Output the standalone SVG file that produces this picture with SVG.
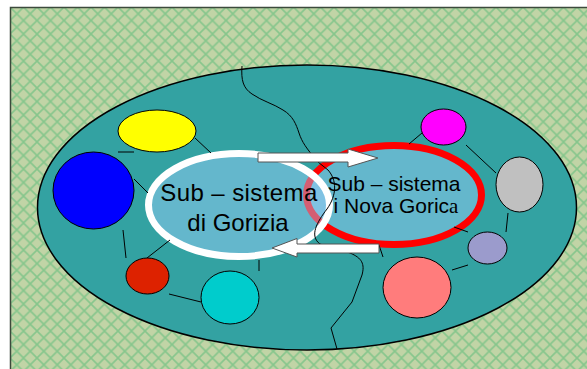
<svg xmlns="http://www.w3.org/2000/svg" width="587" height="369" viewBox="0 0 587 369">
  <defs>
    <pattern id="grid" patternUnits="userSpaceOnUse" width="13.5" height="13.5" x="10" y="7">
      <rect width="13.5" height="13.5" fill="#c1d4a6"/>
      <path d="M0,0 L13.5,13.5 M13.5,0 L0,13.5" stroke="#86c68c" stroke-width="1.6" fill="none"/>
    </pattern>
    <style>
      .node { stroke: #000; stroke-width: 1; }
      .conn { stroke: #000; stroke-width: 1; fill: none; }
      .arrow { fill: #fff; stroke: #555; stroke-width: 1; }
      .label { font-family: "Liberation Sans", Arial, sans-serif; fill: #000; text-anchor: middle; }
      .sub { fill: #a0d1ff; fill-opacity: 0.45; stroke-width: 7; }
    </style>
  </defs>

  <rect x="10.5" y="7.5" width="600" height="380" fill="url(#grid)" stroke="#3c4a3c" stroke-width="1.5"/>

  <g id="region">
    <ellipse cx="307" cy="207.5" rx="269.5" ry="142.5" fill="#33a2a2" stroke="#000" stroke-width="1.5"/>
  </g>

  <g id="node-yellow"><ellipse class="node" cx="157" cy="131" rx="39" ry="21" fill="#ffff00"/></g>
  <g id="node-blue"><ellipse class="node" cx="93.5" cy="190.5" rx="40.5" ry="38.5" fill="#0000ff"/></g>
  <g id="node-red"><ellipse class="node" cx="147.5" cy="276" rx="21.5" ry="18" fill="#dd2200"/></g>
  <g id="node-cyan"><ellipse class="node" cx="230" cy="297.5" rx="29" ry="26.5" fill="#00cccc"/></g>
  <g id="node-salmon"><ellipse class="node" cx="417" cy="287.5" rx="34" ry="30.5" fill="#ff7c7c"/></g>
  <g id="node-lavender"><ellipse class="node" cx="487.5" cy="248" rx="19.5" ry="16" fill="#9b9bcc"/></g>
  <g id="node-grey"><ellipse class="node" cx="519.5" cy="184.5" rx="23.5" ry="27.5" fill="#c0c0c0"/></g>
  <g id="node-magenta"><ellipse class="node" cx="443.5" cy="127" rx="22.5" ry="18" fill="#ff00ff"/></g>

  <g id="node-nova">
    <ellipse class="sub" cx="394" cy="195" rx="87.5" ry="49.5" stroke="#ff0000"/>
  </g>
  <g id="node-gorizia">
    <ellipse class="sub" cx="239" cy="205" rx="90.5" ry="51.5" stroke="#ffffff"/>
  </g>

  <g id="connectors">
    <line class="conn" x1="118" y1="152" x2="134" y2="152"/>
    <line class="conn" x1="134" y1="179" x2="148" y2="193"/>
    <line class="conn" x1="123" y1="230" x2="126" y2="258"/>
    <line class="conn" x1="170" y1="240" x2="147" y2="258"/>
    <line class="conn" x1="195" y1="138" x2="211" y2="153"/>
    <line class="conn" x1="169" y1="294" x2="201" y2="302"/>
    <line class="conn" x1="259" y1="260" x2="259" y2="271"/>
    <line class="conn" x1="422" y1="133" x2="409" y2="144"/>
    <line class="conn" x1="466" y1="145" x2="496" y2="173"/>
    <line class="conn" x1="508" y1="213" x2="506" y2="232"/>
    <line class="conn" x1="454" y1="227" x2="468" y2="232"/>
    <line class="conn" x1="452" y1="270" x2="468" y2="265"/>
    <line class="conn" x1="379" y1="245" x2="383" y2="257"/>
    <path class="conn" d="M242,66 C241,80 243,88 252,94 C262,101 274,104 283,110 C293,116 296,124 299,133 C302,142 306,148 318,162 L328,170 C337,180 337,195 327,209 C317,222 309,236 320,244 L350,253 C362,258 365,264 362,275 L352,302 L331,328 L337,349"/>
  </g>

  <g id="arrows">
    <polygon class="arrow" points="258,153 348,153 348,149 378,158 348,167 348,162 258,162"/>
    <polygon class="arrow" points="379,244 297,244 297,238.5 272,248 297,257 297,253 379,253"/>
  </g>

  <g id="labels">
    <text class="label" x="239" y="201" font-size="24" letter-spacing="0.4">Sub – sistema</text>
    <text class="label" x="238" y="231" font-size="24">di Gorizia</text>
    <text class="label" x="394" y="191" font-size="21">Sub – sistema</text>
    <text class="label" x="396" y="213" font-size="21">i Nova Goric<tspan font-family="'Liberation Serif', 'Times New Roman', serif">a</tspan></text>
  </g>
</svg>
